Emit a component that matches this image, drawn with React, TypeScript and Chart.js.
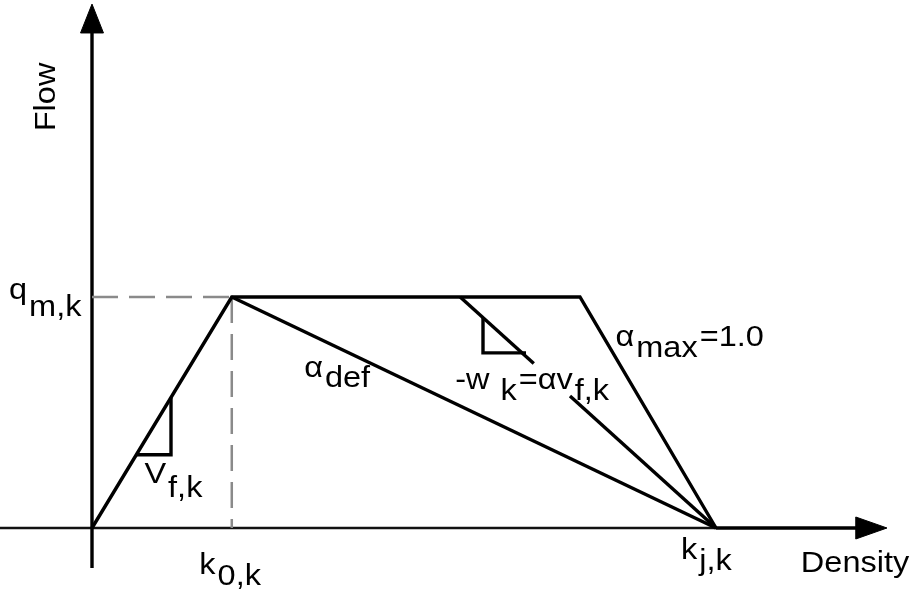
import React, { useEffect, useRef } from "react";
import { Chart, registerables } from "chart.js";

Chart.register(...registerables);

// ---- Data (density in % of jam density, flow in % of capacity) ----
const fdDensity = [0, 22.4, 78.2, 100];
const fdFlow = [0, 100, 100, 0];

const defDensity = [22.4, 100];
const defFlow = [100, 0];

const waveUpperDensity = [59, 70.8];
const waveUpperFlow = [100, 71.2];
const waveLowerDensity = [76.6, 100];
const waveLowerFlow = [57.1, 0];

const vfTriDensity = [7.1, 12.66, 12.66];
const vfTriFlow = [31.7, 31.7, 56.5];

const wTriDensity = [62.66, 62.66, 69.55];
const wTriFlow = [91.0, 75.8, 75.8];

const qGuideDensity = [0, 22.4];
const qGuideFlow = [100, 100];
const kGuideDensity = [22.4, 22.4];
const kGuideFlow = [100, 0];

const yAxisDensity = [0, 0];
const yAxisFlow = [-17.3, 215];
const yArrowDensity = [-1.84, 0, 1.84, -1.84];
const yArrowFlow = [214.3, 226.8, 214.3, 214.3];

const xAxisLeftDensity = [-15, 100];
const xAxisRightDensity = [100, 123];
const xAxisFlow = [0, 0];
const xArrowDensity = [122.4, 127.4, 122.4, 122.4];
const xArrowFlow = [4.76, 0, -4.76, 4.76];

type Part = [string, boolean];
const LABELS: { x: number; y: number; sub: number; parts: Part[] }[] = [
  { x: -13.3, y: 99.1, sub: 17, parts: [["q", false], ["m,k", true]] },
  { x: 8.4, y: 19.5, sub: 14, parts: [["V", false], ["f,k", true]] },
  { x: 17.2, y: -19.9, sub: 11, parts: [["k", false], ["0,k", true]] },
  { x: 94.4, y: -13.4, sub: 11, parts: [["k", false], ["j,k", true]] },
  { x: 34.0, y: 65.4, sub: 10, parts: [["α", false], ["def", true]] },
  { x: 58.2, y: 60.2, sub: 11, parts: [["-w", false], [" k", true], ["=αv", false], ["f,k", true]] },
  { x: 83.9, y: 78.8, sub: 11, parts: [["α", false], ["max", true], ["=1.0", false]] },
  { x: 113.6, y: -19.05, sub: 0, parts: [["Density", false]] },
];
const FLOW_LABEL = { text: "Flow", x: -7.2, y: 186.6 };

const FONT = "29px 'Liberation Sans', Arial, sans-serif";
const HSCALE = 1.12;

const zip = (xs: number[], ys: number[]) => xs.map((x, i) => ({ x, y: ys[i] }));

const labelPlugin = {
  id: "labels",
  afterDatasetsDraw(chart: any) {
    const { ctx, scales } = chart;
    const sx = scales.x;
    const sy = scales.y;
    ctx.save();
    ctx.fillStyle = "#000";
    ctx.font = FONT;
    ctx.textBaseline = "alphabetic";
    ctx.textAlign = "left";
    for (const lab of LABELS) {
      let px = sx.getPixelForValue(lab.x);
      const py = sy.getPixelForValue(lab.y);
      for (const [t, isSub] of lab.parts) {
        ctx.save();
        ctx.translate(px, py + (isSub ? lab.sub : 0));
        ctx.scale(HSCALE, 1);
        ctx.fillText(t, 0, 0);
        ctx.restore();
        px += ctx.measureText(t).width * HSCALE + 2;
      }
    }
    ctx.save();
    ctx.translate(sx.getPixelForValue(FLOW_LABEL.x), sy.getPixelForValue(FLOW_LABEL.y));
    ctx.rotate(-Math.PI / 2);
    ctx.scale(HSCALE, 1);
    ctx.textAlign = "center";
    ctx.textBaseline = "middle";
    ctx.fillText(FLOW_LABEL.text, 0, 0);
    ctx.restore();
    ctx.restore();
  },
};

export default function App() {
  const ref = useRef<HTMLCanvasElement | null>(null);
  useEffect(() => {
    if (!ref.current) return;
    const line = (xs: number[], ys: number[], extra: any = {}) => ({
      data: zip(xs, ys),
      showLine: true,
      borderColor: "#000",
      backgroundColor: "#000",
      borderWidth: 3.4,
      pointRadius: 0,
      fill: false,
      tension: 0,
      ...extra,
    });
    const dashed = { borderColor: "#8a8a8a", borderWidth: 2.5, borderDash: [26, 11] };
    const chart = new Chart(ref.current, {
      type: "scatter",
      data: {
        datasets: [
          line(fdDensity, fdFlow),
          line(defDensity, defFlow),
          line(waveUpperDensity, waveUpperFlow),
          line(waveLowerDensity, waveLowerFlow),
          line(vfTriDensity, vfTriFlow),
          line(wTriDensity, wTriFlow),
          line(qGuideDensity, qGuideFlow, dashed),
          line(kGuideDensity, kGuideFlow, dashed),
          line(yAxisDensity, yAxisFlow),
          line(yArrowDensity, yArrowFlow, { fill: "shape", borderWidth: 1 }),
          line(xAxisLeftDensity, xAxisFlow, { borderWidth: 2.4, borderColor: "#111" }),
          line(xAxisRightDensity, xAxisFlow),
          line(xArrowDensity, xArrowFlow, { fill: "shape", borderWidth: 1 }),
        ] as any,
      },
      options: {
        animation: false,
        responsive: false,
        maintainAspectRatio: false,
        layout: { padding: 0 },
        plugins: { legend: { display: false }, tooltip: { enabled: false } },
        events: [],
        scales: {
          x: { type: "linear", min: -14.744, max: 131.41, display: false },
          y: { type: "linear", min: -26.84, max: 228.57, display: false },
        },
      } as any,
      plugins: [labelPlugin],
    });
    return () => chart.destroy();
  }, []);
  return (
    <div style={{ position: "absolute", left: 0, top: 0, width: 912, height: 590, background: "#fff" }}>
      <canvas ref={ref} width={912} height={590} />
    </div>
  );
}
